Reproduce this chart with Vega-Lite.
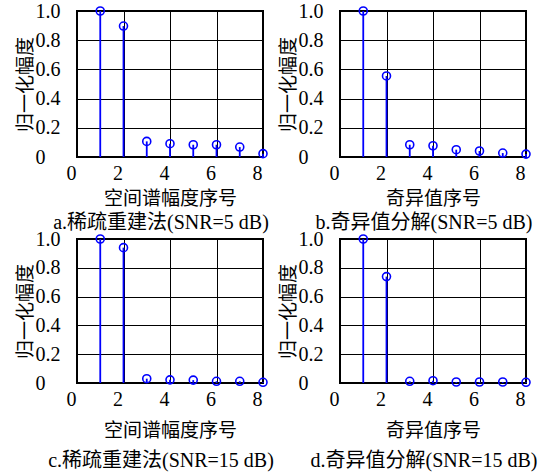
{
  "$schema": "https://vega.github.io/schema/vega-lite/v6.json",
  "background": "white",
  "padding": {"left": 15, "top": 0, "right": 0, "bottom": 0},
  "data": {"values": [
    {"p": "a", "i": 1, "v": 1.0}, {"p": "a", "i": 2, "v": 0.897}, {"p": "a", "i": 3, "v": 0.107}, {"p": "a", "i": 4, "v": 0.091},
    {"p": "a", "i": 5, "v": 0.084}, {"p": "a", "i": 6, "v": 0.084}, {"p": "a", "i": 7, "v": 0.068}, {"p": "a", "i": 8, "v": 0.023},
    {"p": "b", "i": 1, "v": 1.0}, {"p": "b", "i": 2, "v": 0.555}, {"p": "b", "i": 3, "v": 0.084}, {"p": "b", "i": 4, "v": 0.077},
    {"p": "b", "i": 5, "v": 0.05}, {"p": "b", "i": 6, "v": 0.041}, {"p": "b", "i": 7, "v": 0.027}, {"p": "b", "i": 8, "v": 0.02},
    {"p": "c", "i": 1, "v": 1.0}, {"p": "c", "i": 2, "v": 0.94}, {"p": "c", "i": 3, "v": 0.03}, {"p": "c", "i": 4, "v": 0.022},
    {"p": "c", "i": 5, "v": 0.02}, {"p": "c", "i": 6, "v": 0.012}, {"p": "c", "i": 7, "v": 0.012}, {"p": "c", "i": 8, "v": 0.005},
    {"p": "d", "i": 1, "v": 1.0}, {"p": "d", "i": 2, "v": 0.739}, {"p": "d", "i": 3, "v": 0.012}, {"p": "d", "i": 4, "v": 0.016},
    {"p": "d", "i": 5, "v": 0.007}, {"p": "d", "i": 6, "v": 0.007}, {"p": "d", "i": 7, "v": 0.007}, {"p": "d", "i": 8, "v": 0.005}
  ]},
  "config": {
    "font": "Liberation Serif, Noto Sans CJK SC",
    "view": {"stroke": "black", "strokeWidth": 2},
    "axis": {
      "grid": true, "gridColor": "black", "gridOpacity": 1, "gridWidth": 1,
      "domain": false, "ticks": false, "tickSize": 0,
      "labelFont": "Liberation Serif", "labelFontSize": 20, "labelColor": "black",
      "titleFont": "Noto Sans CJK SC", "titleFontSize": 19, "titleFontWeight": "normal", "titleColor": "black"
    },
    "axisX": {"labelOffset": -6, "labelFlush": false, "labelPadding": 6, "values": [0, 2, 4, 6, 8]},
    "axisY": {"labelAlign": "left", "labelPadding": 42, "titlePadding": 0, "values": [0, 0.5, 1],
      "labelExpr": "datum.value == 0 ? '0' : format(datum.value, '.1f')"},
    "title": {"orient": "bottom", "fontSize": 20, "fontWeight": "normal", "color": "black", "frame": "group", "anchor": "middle", "dx": -9,
      "font": "Liberation Serif, Noto Sans CJK SC"}
  },
  "columns": 2,
  "spacing": {"row": -6, "column": 3},
  "concat": [
    {
      "transform": [{"filter": "datum.p == 'a'"}],
      "width": 186, "height": 146,
      "title": {"text": "a.稀疏重建法(SNR=5 dB)", "offset": 5},
      "encoding": {
        "x": {"field": "i", "type": "quantitative", "scale": {"domain": [0, 8], "nice": false}, "axis": {"title": "空间谱幅度序号", "titlePadding": 6}},
        "y": {"field": "v", "type": "quantitative", "scale": {"domain": [0, 1], "nice": false}, "axis": {"title": "归一化幅度"}}
      },
      "layer": [
        {"mark": {"type": "rule", "color": "#0000ff", "strokeWidth": 1.8}, "encoding": {"y2": {"datum": 0}}},
        {"mark": {"type": "point", "shape": "circle", "filled": false, "color": "#0000ff", "strokeWidth": 1.6, "size": 64, "opacity": 1}}
      ]
    },
    {
      "transform": [{"filter": "datum.p == 'b'"}],
      "width": 186, "height": 146,
      "title": {"text": "b.奇异值分解(SNR=5 dB)", "offset": 5},
      "encoding": {
        "x": {"field": "i", "type": "quantitative", "scale": {"domain": [0, 8], "nice": false}, "axis": {"title": "奇异值序号", "titlePadding": 6}},
        "y": {"field": "v", "type": "quantitative", "scale": {"domain": [0, 1], "nice": false}, "axis": {"title": "归一化幅度"}}
      },
      "layer": [
        {"mark": {"type": "rule", "color": "#0000ff", "strokeWidth": 1.8}, "encoding": {"y2": {"datum": 0}}},
        {"mark": {"type": "point", "shape": "circle", "filled": false, "color": "#0000ff", "strokeWidth": 1.6, "size": 64, "opacity": 1}}
      ]
    },
    {
      "transform": [{"filter": "datum.p == 'c'"}],
      "width": 186, "height": 144,
      "title": {"text": "c.稀疏重建法(SNR=15 dB)", "offset": 11},
      "encoding": {
        "x": {"field": "i", "type": "quantitative", "scale": {"domain": [0, 8], "nice": false}, "axis": {"title": "空间谱幅度序号", "titlePadding": 12}},
        "y": {"field": "v", "type": "quantitative", "scale": {"domain": [0, 1], "nice": false}, "axis": {"title": "归一化幅度"}}
      },
      "layer": [
        {"mark": {"type": "rule", "color": "#0000ff", "strokeWidth": 1.8}, "encoding": {"y2": {"datum": 0}}},
        {"mark": {"type": "point", "shape": "circle", "filled": false, "color": "#0000ff", "strokeWidth": 1.6, "size": 64, "opacity": 1}}
      ]
    },
    {
      "transform": [{"filter": "datum.p == 'd'"}],
      "width": 186, "height": 144,
      "title": {"text": "d.奇异值分解(SNR=15 dB)", "offset": 11},
      "encoding": {
        "x": {"field": "i", "type": "quantitative", "scale": {"domain": [0, 8], "nice": false}, "axis": {"title": "奇异值序号", "titlePadding": 12}},
        "y": {"field": "v", "type": "quantitative", "scale": {"domain": [0, 1], "nice": false}, "axis": {"title": "归一化幅度"}}
      },
      "layer": [
        {"mark": {"type": "rule", "color": "#0000ff", "strokeWidth": 1.8}, "encoding": {"y2": {"datum": 0}}},
        {"mark": {"type": "point", "shape": "circle", "filled": false, "color": "#0000ff", "strokeWidth": 1.6, "size": 64, "opacity": 1}}
      ]
    }
  ]
}
